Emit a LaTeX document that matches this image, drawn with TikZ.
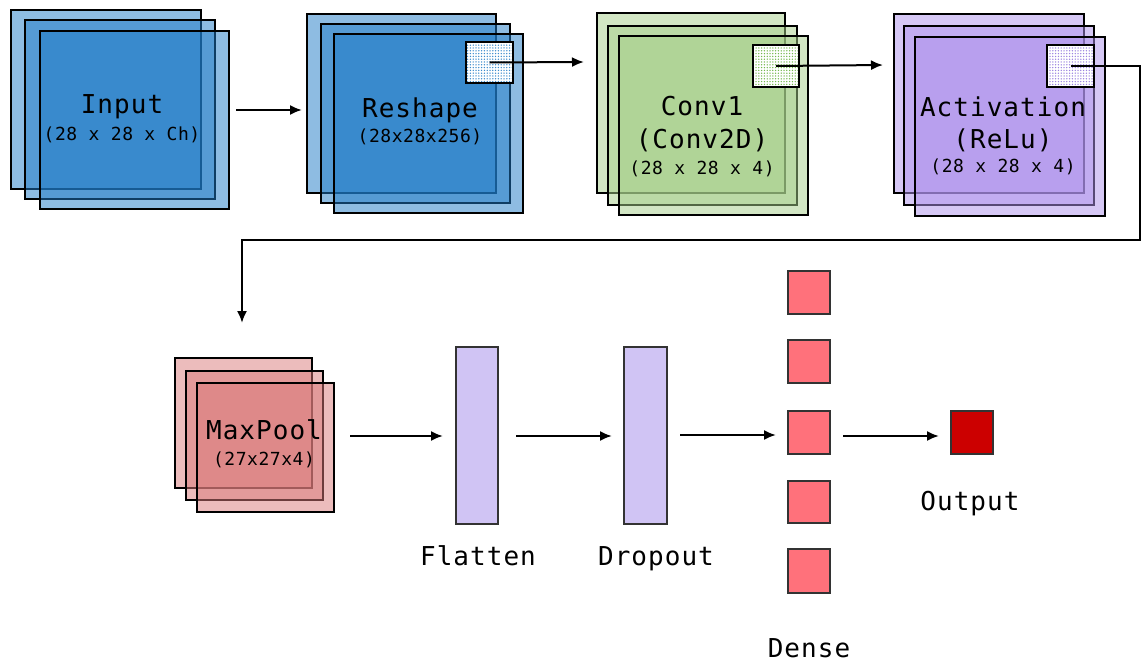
\documentclass[tikz,border=0pt]{standalone}
\usepackage{fontspec}
\usetikzlibrary{arrows.meta,patterns}
\newfontfamily\lblfont[LetterSpace=4]{DejaVu Sans Mono}
\newfontfamily\subfont[LetterSpace=3]{DejaVu Sans Mono}
\pgfdeclarepatternformonly{finedots}{\pgfqpoint{-0.7pt}{-0.7pt}}{\pgfqpoint{2.2pt}{2.2pt}}{\pgfqpoint{2.8pt}{2.8pt}}{%
  \pgfpathcircle{\pgfqpoint{0pt}{0pt}}{0.75pt}\pgfusepath{fill}}
\definecolor{cblue}{HTML}{1E7AC6}
\definecolor{cgreen}{HTML}{A5CE89}
\definecolor{cpurple}{HTML}{AE92EC}
\definecolor{cred}{HTML}{D97979}
\definecolor{cbar}{HTML}{D0C4F4}
\definecolor{cdense}{HTML}{FF717B}
\definecolor{cout}{HTML}{CC0000}
\definecolor{dotblue}{HTML}{3A8BCD}
\definecolor{dotgreen}{HTML}{74B84E}
\definecolor{dotpurple}{HTML}{9A82E0}
\begin{document}
\begin{tikzpicture}[x=1pt,y=-1pt,
  layer/.style={draw=black,line width=1.8pt,fill opacity=0.5,inner sep=0pt,outer sep=0pt,anchor=north west},
  small/.style={draw=black,line width=1.8pt,preaction={fill=white},pattern=finedots,inner sep=0pt,outer sep=0pt,anchor=north west},
  unit/.style={draw=black!80,line width=1.8pt,inner sep=0pt,outer sep=0pt,anchor=north west},
  big/.style={font=\lblfont\fontsize{26}{30}\selectfont,anchor=base,inner sep=0pt},
  sub/.style={font=\subfont\fontsize{18}{21}\selectfont,anchor=base,inner sep=0pt},
  arr/.style={line width=2pt,-{Latex[length=12pt,width=10pt]}}]
\useasboundingbox (0,0) rectangle (1141,664);

% Input
\node[layer,fill=cblue,minimum width=190pt,minimum height=179pt] (in1) at (11,10) {};
\node[layer,fill=cblue,minimum width=190pt,minimum height=179pt] (in2) at (25,20) {};
\node[layer,fill=cblue,minimum width=189pt,minimum height=178pt] (in3) at (40,31) {};
\node[big] (inl) at (122,113) {Input};
\node[sub] (ins) at (122,140) {(28 x 28 x Ch)};

% Reshape
\node[layer,fill=cblue,minimum width=189pt,minimum height=179pt] (re1) at (307,14) {};
\node[layer,fill=cblue,minimum width=189pt,minimum height=179pt] (re2) at (321,24) {};
\node[layer,fill=cblue,minimum width=189pt,minimum height=179pt] (re3) at (334,34) {};
\node[small,pattern color=dotblue,minimum width=47pt,minimum height=41pt] (rebox) at (466,42) {};
\node[big] (rel) at (420,117) {Reshape};
\node[sub] (res) at (420,142) {(28x28x256)};

% Conv1
\node[layer,fill=cgreen,minimum width=188pt,minimum height=180pt] (cv1) at (597,13) {};
\node[layer,fill=cgreen,minimum width=189pt,minimum height=179pt] (cv2) at (608,26) {};
\node[layer,fill=cgreen,minimum width=189pt,minimum height=179pt] (cv3) at (619,36) {};
\node[small,pattern color=dotgreen,minimum width=46pt,minimum height=42pt] (cvbox) at (753,45) {};
\node[big] (cvl) at (702,115) {Conv1};
\node[big] (cvm) at (702,148) {(Conv2D)};
\node[sub] (cvs) at (702,174) {(28 x 28 x 4)};

% Activation
\node[layer,fill=cpurple,minimum width=190pt,minimum height=179pt] (ac1) at (894,14) {};
\node[layer,fill=cpurple,minimum width=190pt,minimum height=179pt] (ac2) at (904,26) {};
\node[layer,fill=cpurple,minimum width=190pt,minimum height=179pt] (ac3) at (915,37) {};
\node[small,pattern color=dotpurple,minimum width=47pt,minimum height=42pt] (acbox) at (1047,45) {};
\node[big] (acl) at (1003,116) {Activation};
\node[big] (acm) at (1003,148) {(ReLu)};
\node[sub] (acs) at (1003,172) {(28 x 28 x 4)};

% MaxPool
\node[layer,fill=cred,minimum width=137pt,minimum height=130pt] (mp1) at (175,358) {};
\node[layer,fill=cred,minimum width=137pt,minimum height=129pt] (mp2) at (186,371) {};
\node[layer,fill=cred,minimum width=137pt,minimum height=129pt] (mp3) at (197,383) {};
\node[big] (mpl) at (264,439) {MaxPool};
\node[sub] (mps) at (264,465) {(27x27x4)};

% Flatten / Dropout
\node[unit,fill=cbar,minimum width=42pt,minimum height=177pt] (fl) at (456,347) {};
\node[big] (fll) at (478,565) {Flatten};
\node[unit,fill=cbar,minimum width=43pt,minimum height=177pt] (dr) at (624,347) {};
\node[big] (drl) at (656,565) {Dropout};

% Dense
\node[unit,fill=cdense,minimum width=42pt,minimum height=43pt] (d1) at (788,271) {};
\node[unit,fill=cdense,minimum width=42pt,minimum height=43pt] (d2) at (788,340) {};
\node[unit,fill=cdense,minimum width=42pt,minimum height=43pt] (d3) at (788,411) {};
\node[unit,fill=cdense,minimum width=42pt,minimum height=42pt] (d4) at (788,481) {};
\node[unit,fill=cdense,minimum width=42pt,minimum height=44pt] (d5) at (788,549) {};
\node[big] (dl) at (809,657) {Dense};

% Output
\node[unit,fill=cout,minimum width=42pt,minimum height=43pt] (out) at (951,411) {};
\node[big] (outl) at (970,510) {Output};

% connector end points
\coordinate (a1s) at (236,110);
\coordinate (a1e) at (302,110);
\coordinate (a2e) at (584,62);
\coordinate (a3e) at (883,65);
\coordinate (turn) at (1140,240);
\coordinate (a4e) at (242,323);
\coordinate (a5s) at (350,436);
\coordinate (a5e) at (443,436);
\coordinate (a6s) at (516,436);
\coordinate (a6e) at (612,436);
\coordinate (a7s) at (680,435);
\coordinate (a7e) at (776,435);
\coordinate (a8s) at (843,436);
\coordinate (a8e) at (939,436);

\draw[arr] (a1s) -- (a1e);
\draw[arr] (rebox.center) -- (a2e);
\draw[arr] (cvbox.center) -- (a3e);
\draw[arr] (acbox.center) -| (turn) -| (a4e);
\draw[arr] (a5s) -- (a5e);
\draw[arr] (a6s) -- (a6e);
\draw[arr] (a7s) -- (a7e);
\draw[arr] (a8s) -- (a8e);
\end{tikzpicture}
\end{document}
